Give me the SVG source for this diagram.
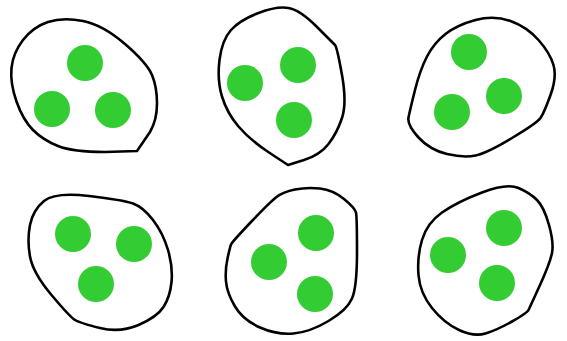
<svg xmlns="http://www.w3.org/2000/svg" width="567" height="341" viewBox="0 0 567 341">
<style>
.blob{fill:#fff;stroke:#000;stroke-width:2.6;stroke-linejoin:round}
.dot{fill:#33cc33}
</style>
<rect width="567" height="341" fill="#fff"/>
<g id="group1">
<path class="blob" d="M48,22 Q63,17 83,21 Q103,25 125,44 Q147,63 152,75 Q157,87 157,103.5 Q157,120 150,132 L137,151 L105,152 Q73,152 58,146 Q43,140 33,130 Q23,120 16.5,101.5 Q10,83 11.5,68 Q13,53 23,40 Q33,27 48,22 Z"/>
<circle class="dot" cx="85" cy="63" r="18"/><circle class="dot" cx="52" cy="109" r="18"/><circle class="dot" cx="113" cy="110" r="18"/>
</g>
<g id="group2">
<path class="blob" d="M258.5,13 Q277,6 288.5,8 Q300,10 316.5,26.5 Q333,43 335,45 Q337,47 342,75 Q347,103 342,118 Q337,133 328.5,144 Q320,155 304,160 L288,165 L269,152.5 Q250,140 238.5,126.5 Q227,113 222,96.5 Q217,80 219.5,60 Q222,40 231,30 Q240,20 258.5,13 Z"/>
<circle class="dot" cx="298" cy="65" r="18"/><circle class="dot" cx="245" cy="83" r="18"/><circle class="dot" cx="294" cy="120" r="18"/>
</g>
<g id="group3">
<path class="blob" d="M475.5,20 Q494,15 510.5,21 Q527,27 538.5,40 Q550,53 553.5,65 Q557,77 550.5,95 Q544,113 540.5,118 Q537,123 512,138 Q487,153 475.5,155.5 Q464,158 447,154 Q430,150 418.5,137.5 Q407,125 408.5,117.5 Q410,110 415,90 Q420,70 427,56.5 Q434,43 445.5,34 Q457,25 475.5,20 Z"/>
<circle class="dot" cx="469" cy="52" r="18"/><circle class="dot" cx="504" cy="96" r="18"/><circle class="dot" cx="452" cy="112" r="18"/>
</g>
<g id="group4">
<path class="blob" d="M44,201 Q55,192 89,196 Q123,200 133,203.5 Q143,207 153,220 Q163,233 168,250 Q173,267 171.5,282 Q170,297 163.5,307 Q157,317 138.5,325 Q120,333 100,328 Q80,323 75,320 Q70,317 51.5,295 Q33,273 30,256.5 Q27,240 30,225 Q33,210 44,201 Z"/>
<circle class="dot" cx="73" cy="234" r="18"/><circle class="dot" cx="134" cy="244" r="18"/><circle class="dot" cx="96" cy="284" r="18"/>
</g>
<g id="group5">
<path class="blob" d="M295,189.5 Q307,187 320,188.5 Q333,190 344,199 Q355,208 356,212.5 Q357,217 357,252 Q357,287 352,298.5 Q347,310 328.5,321 Q310,332 293.5,333.5 Q277,335 260,327.5 Q243,320 235,306.5 Q227,293 226,281.5 Q225,270 227.5,258.5 Q230,247 231,244.5 Q232,242 251,222 Q270,202 276.5,197 Q283,192 295,189.5 Z"/>
<circle class="dot" cx="316" cy="233" r="18"/><circle class="dot" cx="269" cy="262" r="18"/><circle class="dot" cx="315" cy="294" r="18"/>
</g>
<g id="group6">
<path class="blob" d="M482,192.5 Q507,183 518.5,188 Q530,193 537,200 Q544,207 549,225 Q554,243 552,253 Q550,263 540,285 Q530,307 528.5,310 Q527,313 512,321.5 Q497,330 485.5,333.5 Q474,337 459,330 Q444,323 432,308 Q420,293 418.5,275 Q417,257 422,240 Q427,223 442,212.5 Q457,202 482,192.5 Z"/>
<circle class="dot" cx="504" cy="228" r="18"/><circle class="dot" cx="448" cy="255" r="18"/><circle class="dot" cx="497" cy="283" r="18"/>
</g>
<g id="connectors"/>
</svg>
